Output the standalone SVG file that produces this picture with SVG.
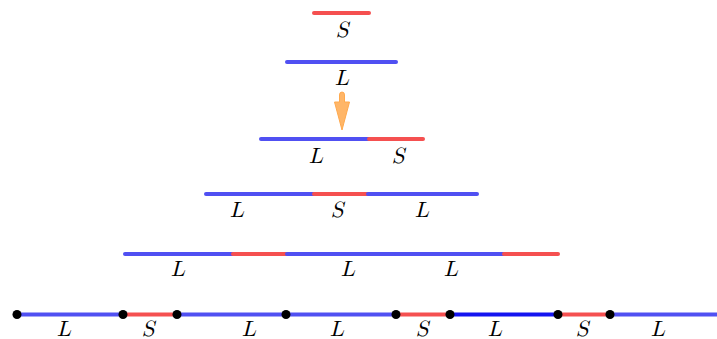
<svg xmlns="http://www.w3.org/2000/svg" width="717" height="339" viewBox="0 0 717 339">
<style>
.b{stroke:#5050f2;stroke-width:4;stroke-linecap:round;fill:none}
.d{stroke:#1414f0;stroke-width:4;stroke-linecap:butt;fill:none}
.r{stroke:#f55050;stroke-width:4;stroke-linecap:round;fill:none}
.t{font-family:"Latin Modern Math","DejaVu Serif","Liberation Serif",serif;font-style:italic;font-size:22px;text-anchor:middle;fill:#000}
.p{fill:#000}
</style>
<rect width="717" height="339" fill="#fff"/>
<g id="row1">
<line class="r" x1="314" y1="13" x2="369" y2="13"/>
<text class="t" x="342" y="37">S</text>
</g>
<g id="row2">
<line class="b" x1="287" y1="62" x2="396" y2="62"/>
<text class="t" x="342" y="85">L</text>
</g>
<g id="arrow">
<path d="M339.5,95 Q339.5,92 342,92 Q344.5,92 344.5,95 L344.5,102 L349.5,102 L342,130 L334.5,102 L339.5,102 Z" fill="#ffa94d" fill-opacity="0.85" stroke="#ffa94d" stroke-width="1" stroke-linejoin="round"/>
</g>
<g id="row3">
<line class="b" x1="261" y1="139" x2="369" y2="139"/>
<line class="r" x1="369" y1="139" x2="423" y2="139"/>
<text class="t" x="316" y="163">L</text>
<text class="t" x="398" y="163">S</text>
</g>
<g id="row4">
<line class="b" x1="206" y1="194" x2="314" y2="194"/>
<line class="r" x1="314" y1="194" x2="368" y2="194"/>
<line class="b" x1="368" y1="194" x2="477" y2="194"/>
<text class="t" x="237" y="217">L</text>
<text class="t" x="337" y="217">S</text>
<text class="t" x="422" y="217">L</text>
</g>
<g id="row5">
<line class="b" x1="125" y1="254" x2="233" y2="254"/>
<line class="r" x1="233" y1="254" x2="287" y2="254"/>
<line class="b" x1="287" y1="254" x2="396" y2="254"/>
<line class="b" x1="396" y1="254" x2="504" y2="254"/>
<line class="r" x1="504" y1="254" x2="558" y2="254"/>
<text class="t" x="178" y="276">L</text>
<text class="t" x="348" y="276">L</text>
<text class="t" x="451" y="276">L</text>
</g>
<g id="connectors">
<line class="b" x1="17" y1="314.5" x2="123" y2="314.5"/>
<line class="r" x1="123" y1="314.5" x2="177" y2="314.5"/>
<line class="b" x1="177" y1="314.5" x2="286" y2="314.5"/>
<line class="b" x1="286" y1="314.5" x2="396" y2="314.5"/>
<line class="r" x1="396" y1="314.5" x2="450" y2="314.5"/>
<line class="d" x1="450" y1="314.5" x2="558" y2="314.5"/>
<line class="r" x1="558" y1="314.5" x2="610" y2="314.5"/>
<line class="b" x1="610" y1="314.5" x2="720" y2="314.5"/>
</g>
<g id="points">
<circle class="p" cx="17" cy="314.5" r="4.5"/>
<circle class="p" cx="123" cy="314.5" r="4.5"/>
<circle class="p" cx="177" cy="314.5" r="4.5"/>
<circle class="p" cx="286" cy="314.5" r="4.5"/>
<circle class="p" cx="396" cy="314.5" r="4.5"/>
<circle class="p" cx="450" cy="314.5" r="4.5"/>
<circle class="p" cx="558" cy="314.5" r="4.5"/>
<circle class="p" cx="610" cy="314.5" r="4.5"/>
</g>
<g id="row6labels">
<text class="t" x="64" y="336">L</text>
<text class="t" x="148" y="336">S</text>
<text class="t" x="249" y="336">L</text>
<text class="t" x="337" y="336">L</text>
<text class="t" x="422" y="336">S</text>
<text class="t" x="495" y="336">L</text>
<text class="t" x="582" y="336">S</text>
<text class="t" x="658" y="336">L</text>
</g>
</svg>
